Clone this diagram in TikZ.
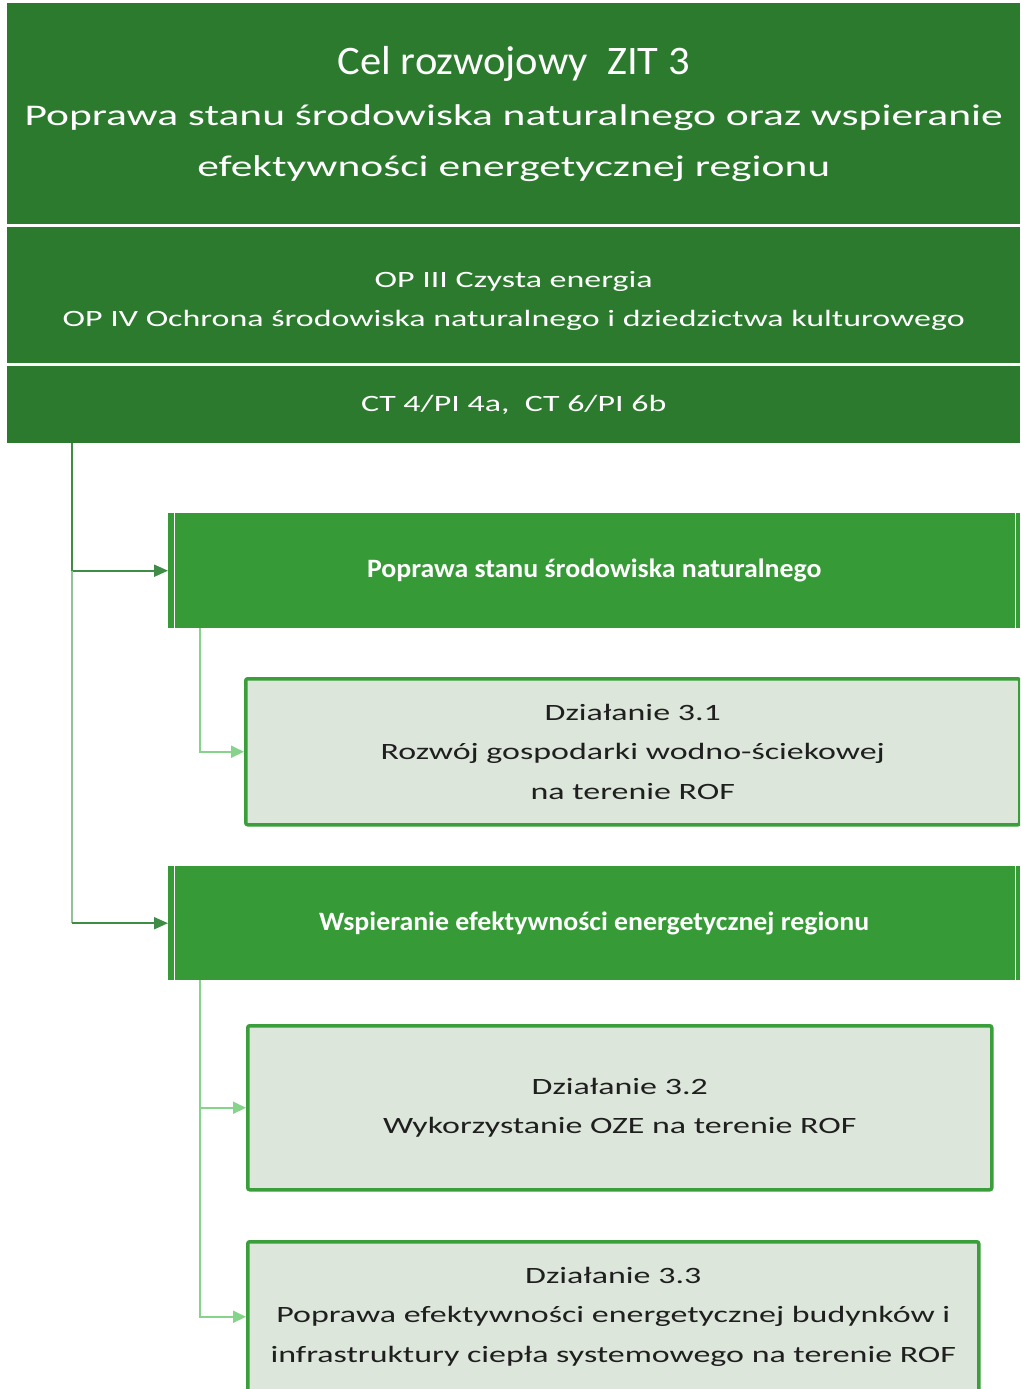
\documentclass[tikz,border=0pt]{standalone}
\usepackage{fontspec}
\setmainfont{Carlito}[FakeStretch=1.45]
\newfontfamily\wasko{Carlito}[FakeStretch=1.05]
\usepackage{tikz}
\usetikzlibrary{arrows.meta,calc,positioning}
\definecolor{lesny}{HTML}{2B7A2D}
\definecolor{trawa}{HTML}{369A36}
\definecolor{mieta}{HTML}{DCE6DA}
\definecolor{ramka}{HTML}{3A9E3A}
\definecolor{pien}{HTML}{93C297}
\definecolor{strzalka}{HTML}{3F8C46}
\definecolor{listek}{HTML}{86D38B}

\begin{document}
\begin{tikzpicture}[x=1pt,y=-1pt,
    pas/.style={rectangle,fill=lesny,text=white,inner sep=0pt,anchor=north west,
      minimum width=1013pt,align=center},
    cel/.style={rectangle,fill=trawa,text=white,inner sep=0pt,anchor=north west,
      minimum width=852pt,minimum height=115pt,align=center,
      font=\wasko\bfseries\fontsize{26.5}{30}\selectfont,
      path picture={
        \draw[white,line width=1.2pt] ([xshift=6pt]path picture bounding box.north west)
          -- ([xshift=6pt]path picture bounding box.south west);
        \draw[white,line width=1.2pt] ([xshift=-5pt]path picture bounding box.north east)
          -- ([xshift=-5pt]path picture bounding box.south east);}},
    dzial/.style={rectangle,rounded corners=2pt,fill=mieta,draw=ramka,line width=3.5pt,
      text=black!88,inner sep=0pt,anchor=north west,align=center,
      font=\fontsize{23.4}{39.5}\selectfont},
    pniak/.style={line width=2pt,strzalka,-{Triangle[length=14pt,width=12pt]}},
    galaz/.style={line width=2pt,listek,-{Triangle[length=13pt,width=12pt]}}]
  \useasboundingbox (0,0) rectangle (1020,1389);
  \clip (0,0) rectangle (1020,1389);
  % naglowek
  \node[pas,minimum height=221pt,font=\fontsize{30}{51}\selectfont] (glowny) at (7,3)
    {{\wasko\fontsize{40.5}{51}\selectfont Cel rozwojowy\ \ ZIT 3}\\
     Poprawa stanu środowiska naturalnego oraz wspieranie\\
     efektywności energetycznej regionu};
  \node[pas,minimum height=136pt,font=\fontsize{23.4}{39}\selectfont] (op) at (7,227)
    {\rule{0pt}{27pt}OP III Czysta energia\\
     OP IV Ochrona środowiska naturalnego i dziedzictwa kulturowego};
  \node[pas,minimum height=77pt,font=\fontsize{23.4}{39}\selectfont] (ct) at (7,366)
    {CT 4/PI 4a,\ \ CT 6/PI 6b};
  % cele szczegolowe
  \node[cel] (srodowisko) at (168,513) {Poprawa stanu środowiska naturalnego};
  \node[cel,minimum height=114pt] (energia) at (168,866)
    {Wspieranie efektywności energetycznej regionu};
  % dzialania
  \node[dzial,minimum width=774pt,minimum height=146pt] (dz1) at (244,677)
    {Działanie 3.1\\ Rozwój gospodarki wodno-ściekowej\\ na terenie ROF};
  \node[dzial,minimum width=744pt,minimum height=164pt] (dz2) at (246,1024)
    {Działanie 3.2\\ Wykorzystanie OZE na terenie ROF};
  \node[dzial,minimum width=731pt,minimum height=150pt] (dz3) at (246,1240)
    {Działanie 3.3\\ Poprawa efektywności energetycznej budynków i\\
     infrastruktury ciepła systemowego na terenie ROF};
  % polaczenia
  \coordinate (pien) at ([xshift=65pt]ct.south west);
  \draw[pniak] (pien) |- (srodowisko.west);
  \draw[line width=2pt,pien] (pien |- srodowisko.west) -- (pien |- energia.west);
  \draw[pniak] (pien |- energia.west) -- (energia.west);
  \coordinate (galaz1) at ([xshift=32pt]srodowisko.south west);
  \draw[galaz] (galaz1) |- (dz1.west);
  \coordinate (galaz2) at ([xshift=32pt]energia.south west);
  \draw[galaz] (galaz2) |- (dz3.west);
  \draw[galaz] (galaz2 |- dz2.west) -- (dz2.west);
\end{tikzpicture}
\end{document}
